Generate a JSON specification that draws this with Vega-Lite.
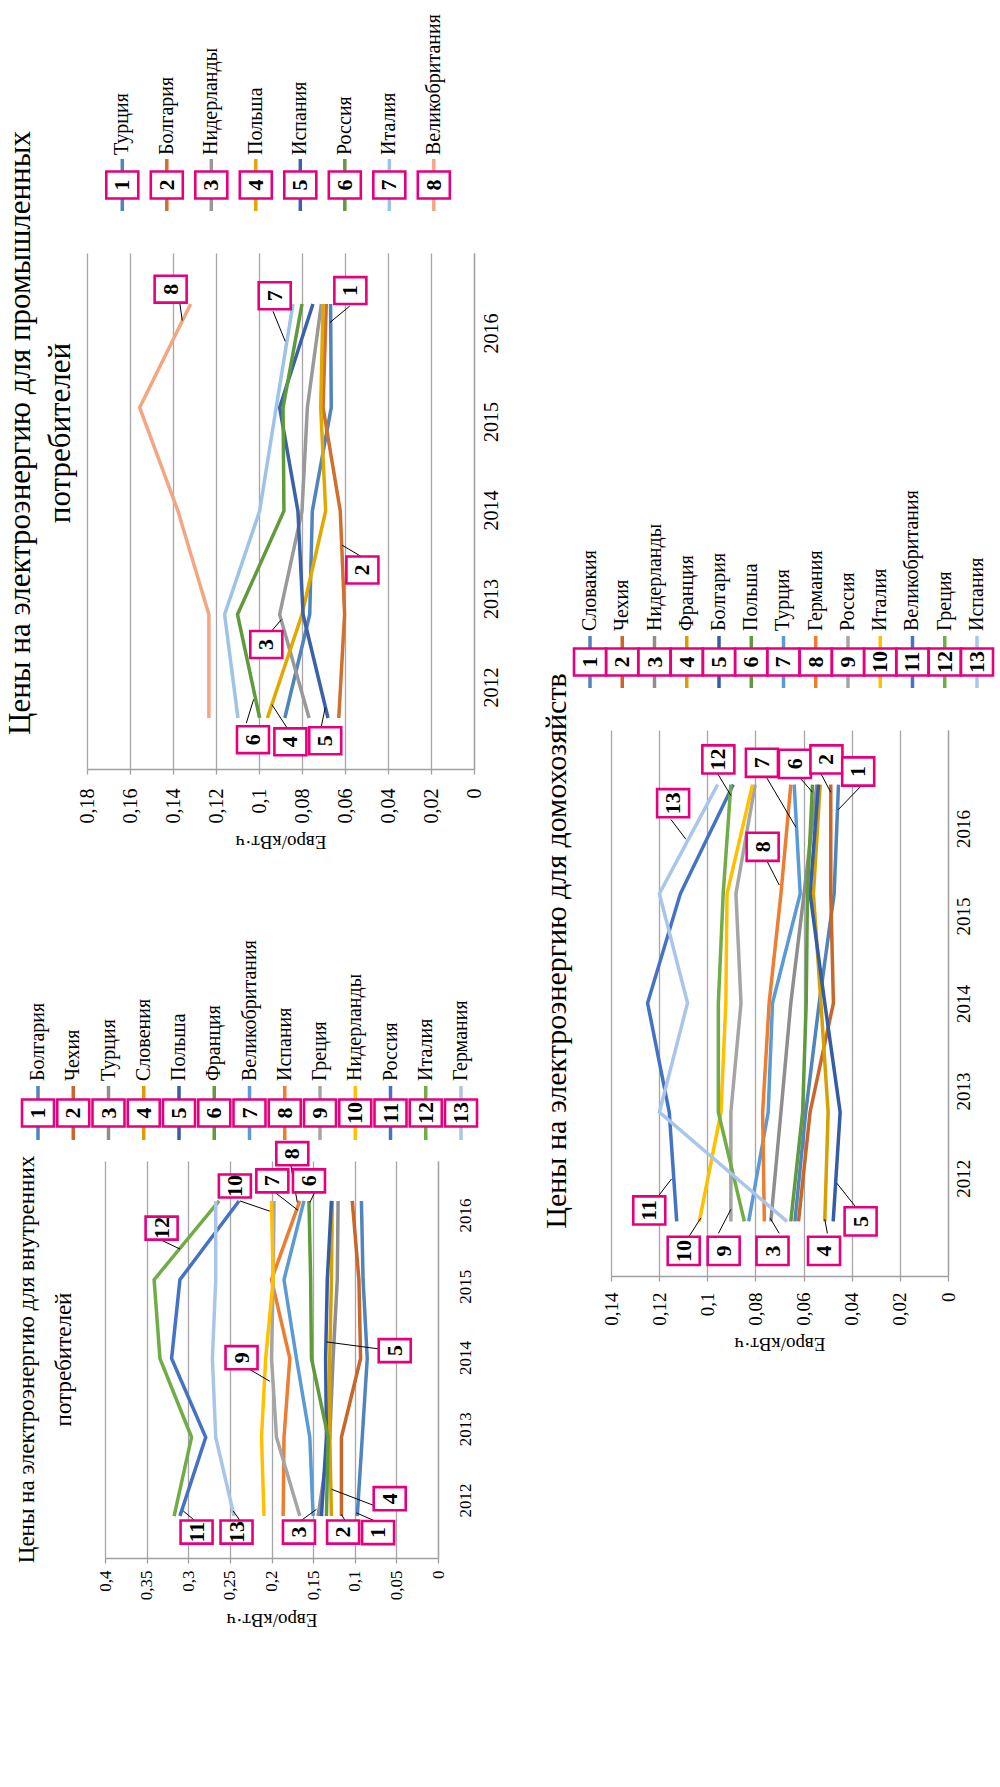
{
  "$schema": "https://vega.github.io/schema/vega-lite/v6.json",
  "padding": {"left": 4, "top": 14, "right": 0, "bottom": 20},
  "background": "white",
  "config": {
    "view": {"stroke": null},
    "font": "Liberation Serif",
    "title": {"font": "Liberation Serif", "fontWeight": "normal", "color": "black"},
    "axis": {"labelFont": "Liberation Serif", "titleFont": "Liberation Serif", "labelColor": "black", "titleColor": "black", "titleFontWeight": "normal", "domainColor": "#A0A0A0", "tickColor": "#A0A0A0", "gridColor": "#A6A6A6", "gridOpacity": 1, "domainWidth": 1.3, "tickWidth": 1.3, "gridWidth": 1.3, "labelFlush": false, "labelOverlap": false},
    "text": {"color": "black"}
  },
  "datasets": {
    "years": [{"year": 2012}, {"year": 2013}, {"year": 2014}, {"year": 2015}, {"year": 2016}],
    "legA": [{"n": 1, "name": "Болгария"}, {"n": 2, "name": "Чехия"}, {"n": 3, "name": "Турция"}, {"n": 4, "name": "Словения"}, {"n": 5, "name": "Польша"}, {"n": 6, "name": "Франция"}, {"n": 7, "name": "Великобритания"}, {"n": 8, "name": "Испания"}, {"n": 9, "name": "Греция"}, {"n": 10, "name": "Нидерланды"}, {"n": 11, "name": "Россия"}, {"n": 12, "name": "Италия"}, {"n": 13, "name": "Германия"}],
    "legB": [{"n": 1, "name": "Турция"}, {"n": 2, "name": "Болгария"}, {"n": 3, "name": "Нидерланды"}, {"n": 4, "name": "Польша"}, {"n": 5, "name": "Испания"}, {"n": 6, "name": "Россия"}, {"n": 7, "name": "Италия"}, {"n": 8, "name": "Великобритания"}],
    "legC": [{"n": 1, "name": "Словакия"}, {"n": 2, "name": "Чехия"}, {"n": 3, "name": "Нидерланды"}, {"n": 4, "name": "Франция"}, {"n": 5, "name": "Болгария"}, {"n": 6, "name": "Польша"}, {"n": 7, "name": "Турция"}, {"n": 8, "name": "Германия"}, {"n": 9, "name": "Россия"}, {"n": 10, "name": "Италия"}, {"n": 11, "name": "Великобритания"}, {"n": 12, "name": "Греция"}, {"n": 13, "name": "Испания"}],
    "A": [
      {"n":1,"year":2012,"v":0.097},{"n":1,"year":2013,"v":0.091},{"n":1,"year":2014,"v":0.085},{"n":1,"year":2015,"v":0.090},{"n":1,"year":2016,"v":0.092},
      {"n":2,"year":2012,"v":0.116},{"n":2,"year":2013,"v":0.116},{"n":2,"year":2014,"v":0.093},{"n":2,"year":2015,"v":0.095},{"n":2,"year":2016,"v":0.103},
      {"n":3,"year":2012,"v":0.144},{"n":3,"year":2013,"v":0.130},{"n":3,"year":2014,"v":0.126},{"n":3,"year":2015,"v":0.121},{"n":3,"year":2016,"v":0.120},
      {"n":4,"year":2012,"v":0.128},{"n":4,"year":2013,"v":0.130},{"n":4,"year":2014,"v":0.130},{"n":4,"year":2015,"v":0.128},{"n":4,"year":2016,"v":0.127},
      {"n":5,"year":2012,"v":0.140},{"n":5,"year":2013,"v":0.134},{"n":5,"year":2014,"v":0.135},{"n":5,"year":2015,"v":0.133},{"n":5,"year":2016,"v":0.128},
      {"n":6,"year":2012,"v":0.134},{"n":6,"year":2013,"v":0.132},{"n":6,"year":2014,"v":0.152},{"n":6,"year":2015,"v":0.153},{"n":6,"year":2016,"v":0.155},
      {"n":7,"year":2012,"v":0.150},{"n":7,"year":2013,"v":0.154},{"n":7,"year":2014,"v":0.170},{"n":7,"year":2015,"v":0.185},{"n":7,"year":2016,"v":0.161},
      {"n":8,"year":2012,"v":0.186},{"n":8,"year":2013,"v":0.185},{"n":8,"year":2014,"v":0.178},{"n":8,"year":2015,"v":0.200},{"n":8,"year":2016,"v":0.166},
      {"n":9,"year":2012,"v":0.166},{"n":9,"year":2013,"v":0.194},{"n":9,"year":2014,"v":0.200},{"n":9,"year":2015,"v":0.198},{"n":9,"year":2016,"v":0.197},
      {"n":10,"year":2012,"v":0.209},{"n":10,"year":2013,"v":0.212},{"n":10,"year":2014,"v":0.207},{"n":10,"year":2015,"v":0.198},{"n":10,"year":2016,"v":0.200},
      {"n":11,"year":2012,"v":0.310},{"n":11,"year":2013,"v":0.279},{"n":11,"year":2014,"v":0.320},{"n":11,"year":2015,"v":0.310},{"n":11,"year":2016,"v":0.239},
      {"n":12,"year":2012,"v":0.317},{"n":12,"year":2013,"v":0.296},{"n":12,"year":2014,"v":0.334},{"n":12,"year":2015,"v":0.341},{"n":12,"year":2016,"v":0.263},
      {"n":13,"year":2012,"v":0.245},{"n":13,"year":2013,"v":0.267},{"n":13,"year":2014,"v":0.271},{"n":13,"year":2015,"v":0.267},{"n":13,"year":2016,"v":0.267}
    ],
    "B": [
      {"n":1,"year":2012,"v":0.0880},{"n":1,"year":2013,"v":0.0764},{"n":1,"year":2014,"v":0.0752},{"n":1,"year":2015,"v":0.0664},{"n":1,"year":2016,"v":0.0667},
      {"n":2,"year":2012,"v":0.0629},{"n":2,"year":2013,"v":0.0602},{"n":2,"year":2014,"v":0.0622},{"n":2,"year":2015,"v":0.0702},{"n":2,"year":2016,"v":0.0687},
      {"n":3,"year":2012,"v":0.0767},{"n":3,"year":2013,"v":0.0904},{"n":3,"year":2014,"v":0.0800},{"n":3,"year":2015,"v":0.0775},{"n":3,"year":2016,"v":0.0710},
      {"n":4,"year":2012,"v":0.0961},{"n":4,"year":2013,"v":0.0800},{"n":4,"year":2014,"v":0.0690},{"n":4,"year":2015,"v":0.0713},{"n":4,"year":2016,"v":0.0702},
      {"n":5,"year":2012,"v":0.0679},{"n":5,"year":2013,"v":0.0795},{"n":5,"year":2014,"v":0.0819},{"n":5,"year":2015,"v":0.0904},{"n":5,"year":2016,"v":0.0749},
      {"n":6,"year":2012,"v":0.0997},{"n":6,"year":2013,"v":0.1100},{"n":6,"year":2014,"v":0.0884},{"n":6,"year":2015,"v":0.0888},{"n":6,"year":2016,"v":0.0800},
      {"n":7,"year":2012,"v":0.1098},{"n":7,"year":2013,"v":0.1160},{"n":7,"year":2014,"v":0.0997},{"n":7,"year":2015,"v":0.0920},{"n":7,"year":2016,"v":0.0842},
      {"n":8,"year":2012,"v":0.1233},{"n":8,"year":2013,"v":0.1233},{"n":8,"year":2014,"v":0.1377},{"n":8,"year":2015,"v":0.1555},{"n":8,"year":2016,"v":0.1318}
    ],
    "C": [
      {"n":1,"year":2012,"v":0.0636},{"n":1,"year":2013,"v":0.0591},{"n":1,"year":2014,"v":0.0535},{"n":1,"year":2015,"v":0.0473},{"n":1,"year":2016,"v":0.0455},
      {"n":2,"year":2012,"v":0.0621},{"n":2,"year":2013,"v":0.0573},{"n":2,"year":2014,"v":0.0476},{"n":2,"year":2015,"v":0.0487},{"n":2,"year":2016,"v":0.0487},
      {"n":3,"year":2012,"v":0.0736},{"n":3,"year":2013,"v":0.0694},{"n":3,"year":2014,"v":0.0653},{"n":3,"year":2015,"v":0.0598},{"n":3,"year":2016,"v":0.0545},
      {"n":4,"year":2012,"v":0.0512},{"n":4,"year":2013,"v":0.0498},{"n":4,"year":2014,"v":0.0528},{"n":4,"year":2015,"v":0.0559},{"n":4,"year":2016,"v":0.0531},
      {"n":5,"year":2012,"v":0.0477},{"n":5,"year":2013,"v":0.0448},{"n":5,"year":2014,"v":0.0512},{"n":5,"year":2015,"v":0.0573},{"n":5,"year":2016,"v":0.0538},
      {"n":6,"year":2012,"v":0.0653},{"n":6,"year":2013,"v":0.0604},{"n":6,"year":2014,"v":0.0589},{"n":6,"year":2015,"v":0.0584},{"n":6,"year":2016,"v":0.0563},
      {"n":7,"year":2012,"v":0.0828},{"n":7,"year":2013,"v":0.0747},{"n":7,"year":2014,"v":0.0729},{"n":7,"year":2015,"v":0.0614},{"n":7,"year":2016,"v":0.0639},
      {"n":8,"year":2012,"v":0.0763},{"n":8,"year":2013,"v":0.0770},{"n":8,"year":2014,"v":0.0743},{"n":8,"year":2015,"v":0.0694},{"n":8,"year":2016,"v":0.0653},
      {"n":9,"year":2012,"v":0.0902},{"n":9,"year":2013,"v":0.0902},{"n":9,"year":2014,"v":0.0860},{"n":9,"year":2015,"v":0.0881},{"n":9,"year":2016,"v":0.0801},
      {"n":10,"year":2012,"v":0.1033},{"n":10,"year":2013,"v":0.0943},{"n":10,"year":2014,"v":0.0923},{"n":10,"year":2015,"v":0.0918},{"n":10,"year":2016,"v":0.0812},
      {"n":11,"year":2012,"v":0.1127},{"n":11,"year":2013,"v":0.1158},{"n":11,"year":2014,"v":0.1248},{"n":11,"year":2015,"v":0.1112},{"n":11,"year":2016,"v":0.0892},
      {"n":12,"year":2012,"v":0.0846},{"n":12,"year":2013,"v":0.0954},{"n":12,"year":2014,"v":0.0954},{"n":12,"year":2015,"v":0.0934},{"n":12,"year":2016,"v":0.0902},
      {"n":13,"year":2012,"v":0.0669},{"n":13,"year":2013,"v":0.1199},{"n":13,"year":2014,"v":0.1082},{"n":13,"year":2015,"v":0.1199},{"n":13,"year":2016,"v":0.0957}
    ],
    "annA": [
      {"n":11,"bv":0.290,"by":2011.796,"v1":0.292,"y1":2011.94,"v2":0.306,"y2":2012.064},
      {"n":13,"bv":0.242,"by":2011.796,"v1":0.237,"y1":2011.93,"v2":0.246,"y2":2012.064},
      {"n":3,"bv":0.167,"by":2011.796,"v1":0.168,"y1":2011.915,"v2":0.146,"y2":2012.085},
      {"n":2,"bv":0.114,"by":2011.796,"v1":0.110,"y1":2011.915,"v2":0.116,"y2":2012.02},
      {"n":1,"bv":0.072,"by":2011.79,"v1":0.072,"y1":2011.92,"v2":0.098,"y2":2012.04},
      {"n":4,"bv":0.058,"by":2012.22,"v1":0.076,"y1":2012.13,"v2":0.128,"y2":2012.34},
      {"n":9,"bv":0.236,"by":2014.01,"v1":0.234,"y1":2013.91,"v2":0.202,"y2":2013.71},
      {"n":5,"bv":0.052,"by":2014.10,"v1":0.070,"y1":2014.12,"v2":0.134,"y2":2014.21},
      {"n":12,"bv":0.332,"by":2015.655,"v1":0.336,"y1":2015.52,"v2":0.310,"y2":2015.39},
      {"n":10,"bv":0.244,"by":2016.19,"v1":0.238,"y1":2016.0,"v2":0.202,"y2":2015.87},
      {"n":7,"bv":0.199,"by":2016.255,"v1":0.196,"y1":2016.11,"v2":0.168,"y2":2015.88},
      {"n":8,"bv":0.175,"by":2016.6,"v1":0.177,"y1":2016.47,"v2":0.169,"y2":2015.98},
      {"n":6,"bv":0.155,"by":2016.255,"v1":0.148,"y1":2016.11,"v2":0.154,"y2":2015.98}
    ],
    "annB": [
      {"n":8,"bv":0.1411,"by":2016.143,"v1":0.1369,"y1":2016.02,"v2":0.1357,"y2":2015.84},
      {"n":7,"bv":0.0927,"by":2016.08,"v1":0.0935,"y1":2015.93,"v2":0.0878,"y2":2015.64},
      {"n":1,"bv":0.0575,"by":2016.13,"v1":0.0578,"y1":2015.98,"v2":0.0671,"y2":2015.82},
      {"n":2,"bv":0.0519,"by":2013.43,"v1":0.0516,"y1":2013.55,"v2":0.0614,"y2":2013.67},
      {"n":3,"bv":0.0966,"by":2012.71,"v1":0.0946,"y1":2012.83,"v2":0.0896,"y2":2012.95},
      {"n":6,"bv":0.1028,"by":2011.79,"v1":0.1059,"y1":2011.95,"v2":0.1025,"y2":2012.18},
      {"n":4,"bv":0.0854,"by":2011.77,"v1":0.0865,"y1":2011.89,"v2":0.0940,"y2":2012.13},
      {"n":5,"bv":0.0692,"by":2011.78,"v1":0.0713,"y1":2011.89,"v2":0.0692,"y2":2012.10}
    ],
    "annC": [
      {"n":12,"bv":0.0954,"by":2016.23,"v1":0.0957,"y1":2016.10,"v2":0.0902,"y2":2015.90},
      {"n":13,"bv":0.1142,"by":2015.83,"v1":0.1151,"y1":2015.68,"v2":0.1089,"y2":2015.50},
      {"n":7,"bv":0.0773,"by":2016.20,"v1":0.0763,"y1":2016.10,"v2":0.0632,"y2":2015.61},
      {"n":6,"bv":0.0636,"by":2016.19,"v1":0.0618,"y1":2016.07,"v2":0.0563,"y2":2015.93},
      {"n":2,"bv":0.0505,"by":2016.23,"v1":0.0528,"y1":2016.10,"v2":0.0487,"y2":2015.93},
      {"n":1,"bv":0.0373,"by":2016.12,"v1":0.0360,"y1":2015.99,"v2":0.0456,"y2":2015.77},
      {"n":8,"bv":0.0770,"by":2015.43,"v1":0.0752,"y1":2015.30,"v2":0.0701,"y2":2015.08},
      {"n":11,"bv":0.1241,"by":2012.10,"v1":0.1218,"y1":2012.19,"v2":0.1148,"y2":2012.39},
      {"n":5,"bv":0.0363,"by":2012.00,"v1":0.0379,"y1":2012.12,"v2":0.0462,"y2":2012.35},
      {"n":10,"bv":0.1098,"by":2011.73,"v1":0.1085,"y1":2011.83,"v2":0.1027,"y2":2012.03},
      {"n":9,"bv":0.0932,"by":2011.73,"v1":0.0954,"y1":2011.89,"v2":0.0902,"y2":2012.11},
      {"n":3,"bv":0.0729,"by":2011.73,"v1":0.0701,"y1":2011.89,"v2":0.0739,"y2":2012.03},
      {"n":4,"bv":0.0515,"by":2011.73,"v1":0.0501,"y1":2011.89,"v2":0.0512,"y2":2012.02}
    ]
  },
  "resolve": {"scale": {"color": "independent"}},
  "spacing": 40,
  "hconcat": [
    {
      "resolve": {"scale": {"color": "independent"}},
      "spacing": 90,
      "vconcat": [
        {
          "bounds": "flush",
          "spacing": 42,
          "resolve": {"scale": {"color": "independent"}},
          "vconcat": [
            {
              "width": 387, "height": 52,
              "data": {"name": "legB"},
              "encoding": {"x": {"field": "n", "type": "quantitative", "scale": {"domain": [0.207, 8.903], "nice": false, "zero": false}, "axis": null}},
              "layer": [
                {"mark": {"type": "rule", "strokeWidth": 3.5}, "encoding": {"color": {"field": "n", "type": "nominal", "scale": {"domain": [1,2,3,4,5,6,7,8], "range": ["#5084BC","#D0702E","#999999","#E0A800","#3B62A8","#5F9A3C","#9DC3E6","#F4A582"]}, "legend": null}}},
                {"mark": {"type": "point", "shape": "M-1,-0.84L1,-0.84L1,0.84L-1,0.84Z", "size": 1024, "filled": true, "fill": "white", "stroke": "#E6007E", "strokeWidth": 2.6, "opacity": 1}},
                {"mark": {"type": "text", "angle": 270, "fontSize": 22, "fontWeight": "bold", "align": "center", "baseline": "middle"}, "encoding": {"text": {"field": "n", "type": "nominal"}}},
                {"mark": {"type": "text", "angle": 270, "fontSize": 20, "align": "left", "baseline": "middle", "dx": 30}, "encoding": {"text": {"field": "name", "type": "nominal"}}}
              ]
            },
            {
              "width": 387, "height": 516,
              "title": {"text": ["Цены на электроэнергию для промышленных", "потребителей"], "orient": "left", "anchor": "middle", "frame": "group", "fontSize": 31, "lineHeight": 40, "offset": 0, "dx": 78},
              "layer": [
                {
                  "layer": [
                    {"data": {"name": "B"}, "mark": {"type": "line", "strokeWidth": 3.5},
                     "encoding": {
                       "x": {"field": "v", "type": "quantitative", "title": "Евро/кВт·ч", "scale": {"domain": [0, 0.18], "reverse": true, "nice": false, "zero": false},
                             "axis": {"values": [0,0.02,0.04,0.06,0.08,0.1,0.12,0.14,0.16,0.18], "labelExpr": "replace(format(datum.value,'~g'),'.',',')", "labelAngle": 270, "labelAlign": "right", "labelBaseline": "middle", "labelFontSize": 20, "labelPadding": 14, "tickSize": 5, "grid": true, "titleFontSize": 19, "titleAngle": 180, "titleBaseline": "bottom", "titlePadding": 8}},
                       "y": {"field": "year", "type": "quantitative", "scale": {"domain": [2011.507, 2016.493], "nice": false, "zero": false}, "axis": null},
                       "color": {"field": "n", "type": "nominal", "scale": {"domain": [1,2,3,4,5,6,7,8], "range": ["#5084BC","#D0702E","#999999","#E0A800","#3B62A8","#5F9A3C","#9DC3E6","#F4A582"]}, "legend": null},
                       "order": {"field": "year"}}},
                    {"data": {"name": "annB"}, "mark": {"type": "rule", "color": "black", "strokeWidth": 1},
                     "encoding": {"x": {"field": "v1", "type": "quantitative", "title": "Евро/кВт·ч"}, "y": {"field": "y1", "type": "quantitative", "axis": null}, "x2": {"field": "v2"}, "y2": {"field": "y2"}}},
                    {"data": {"name": "annB"}, "mark": {"type": "point", "shape": "M-1,-0.84L1,-0.84L1,0.84L-1,0.84Z", "size": 1024, "filled": true, "fill": "white", "stroke": "#E6007E", "strokeWidth": 2.6, "opacity": 1},
                     "encoding": {"x": {"field": "bv", "type": "quantitative", "title": "Евро/кВт·ч"}, "y": {"field": "by", "type": "quantitative", "axis": null}}},
                    {"data": {"name": "annB"}, "mark": {"type": "text", "angle": 270, "fontSize": 22, "fontWeight": "bold", "align": "center", "baseline": "middle"},
                     "encoding": {"x": {"field": "bv", "type": "quantitative", "title": "Евро/кВт·ч"}, "y": {"field": "by", "type": "quantitative", "axis": null}, "text": {"field": "n", "type": "nominal"}}}
                  ]
                },
                {"data": {"name": "years"}, "mark": {"type": "point", "opacity": 0},
                 "encoding": {"y": {"field": "year", "type": "quantitative", "scale": {"domain": [2011.073, 2016.904], "nice": false, "zero": false},
                   "axis": {"orient": "right", "values": [2012,2013,2014,2015,2016], "format": "d", "labelAngle": 270, "labelAlign": "center", "labelBaseline": "top", "labelFontSize": 20, "labelPadding": 7, "ticks": false, "tickSize": 0, "grid": false, "domain": true, "title": null}}}}
              ],
              "resolve": {"scale": {"y": "independent"}, "axis": {"y": "independent"}}
            }
          ]
        },
        {
          "bounds": "flush",
          "center": true,
          "spacing": 21,
          "resolve": {"scale": {"color": "independent"}},
          "vconcat": [
            {
              "width": 369, "height": 54,
              "data": {"name": "legA"},
              "encoding": {"x": {"field": "n", "type": "quantitative", "scale": {"domain": [2.390, 12.858], "nice": false, "zero": false}, "axis": null}},
              "layer": [
                {"mark": {"type": "rule", "strokeWidth": 3.5}, "encoding": {"color": {"field": "n", "type": "nominal", "scale": {"domain": [1,2,3,4,5,6,7,8,9,10,11,12,13], "range": ["#5084BC","#C8672A","#8E8E8E","#D6A000","#345DA7","#5F9A3C","#5B9BD5","#ED7D31","#A5A5A5","#FFC000","#4472C4","#70AD47","#A9C6EA"]}, "legend": null}}},
                {"mark": {"type": "point", "shape": "M-1,-0.84L1,-0.84L1,0.84L-1,0.84Z", "size": 1024, "filled": true, "fill": "white", "stroke": "#E6007E", "strokeWidth": 2.6, "opacity": 1}},
                {"mark": {"type": "text", "angle": 270, "fontSize": 22, "fontWeight": "bold", "align": "center", "baseline": "middle"}, "encoding": {"text": {"field": "n", "type": "nominal"}}},
                {"mark": {"type": "text", "angle": 270, "fontSize": 20, "align": "left", "baseline": "middle", "dx": 32}, "encoding": {"text": {"field": "name", "type": "nominal"}}}
              ]
            },
            {
              "width": 333, "height": 397,
              "title": {"text": ["Цены на электроэнергию для внутренних", "потребителей"], "orient": "left", "anchor": "middle", "frame": "group", "fontSize": 23, "lineHeight": 37, "offset": 20, "dx": 0},
              "layer": [
                {
                  "layer": [
                    {"data": {"name": "A"}, "mark": {"type": "line", "strokeWidth": 3.5},
                     "encoding": {
                       "x": {"field": "v", "type": "quantitative", "title": "Евро/кВт·ч", "scale": {"domain": [0, 0.4], "reverse": true, "nice": false, "zero": false},
                             "axis": {"values": [0,0.05,0.1,0.15,0.2,0.25,0.3,0.35,0.4], "labelExpr": "replace(format(datum.value,'~g'),'.',',')", "labelAngle": 270, "labelAlign": "right", "labelBaseline": "middle", "labelFontSize": 17, "labelPadding": 7, "tickSize": 5, "grid": true, "titleFontSize": 19, "titleAngle": 180, "titleBaseline": "bottom", "titlePadding": 10}},
                       "y": {"field": "year", "type": "quantitative", "scale": {"domain": [2011.467, 2016.507], "nice": false, "zero": false}, "axis": null},
                       "color": {"field": "n", "type": "nominal", "scale": {"domain": [1,2,3,4,5,6,7,8,9,10,11,12,13], "range": ["#5084BC","#C8672A","#8E8E8E","#D6A000","#345DA7","#5F9A3C","#5B9BD5","#ED7D31","#A5A5A5","#FFC000","#4472C4","#70AD47","#A9C6EA"]}, "legend": null},
                       "order": {"field": "year"}}},
                    {"data": {"name": "annA"}, "mark": {"type": "rule", "color": "black", "strokeWidth": 1},
                     "encoding": {"x": {"field": "v1", "type": "quantitative", "title": "Евро/кВт·ч"}, "y": {"field": "y1", "type": "quantitative", "axis": null}, "x2": {"field": "v2"}, "y2": {"field": "y2"}}},
                    {"data": {"name": "annA"}, "mark": {"type": "point", "shape": "M-1,-0.72L1,-0.72L1,0.72L-1,0.72Z", "size": 1024, "filled": true, "fill": "white", "stroke": "#E6007E", "strokeWidth": 2.6, "opacity": 1},
                     "encoding": {"x": {"field": "bv", "type": "quantitative", "title": "Евро/кВт·ч"}, "y": {"field": "by", "type": "quantitative", "axis": null}}},
                    {"data": {"name": "annA"}, "mark": {"type": "text", "angle": 270, "fontSize": 22, "fontWeight": "bold", "align": "center", "baseline": "middle"},
                     "encoding": {"x": {"field": "bv", "type": "quantitative", "title": "Евро/кВт·ч"}, "y": {"field": "by", "type": "quantitative", "axis": null}, "text": {"field": "n", "type": "nominal"}}}
                  ]
                },
                {"data": {"name": "years"}, "mark": {"type": "point", "opacity": 0},
                 "encoding": {"y": {"field": "year", "type": "quantitative", "scale": {"domain": [2011.186, 2016.758], "nice": false, "zero": false},
                   "axis": {"orient": "right", "values": [2012,2013,2014,2015,2016], "format": "d", "labelAngle": 270, "labelAlign": "center", "labelBaseline": "top", "labelFontSize": 17, "labelPadding": 19, "ticks": false, "tickSize": 0, "grid": false, "domain": true, "title": null}}}}
              ],
              "resolve": {"scale": {"y": "independent"}, "axis": {"y": "independent"}}
            }
          ]
        }
      ]
    },
    {
      "resolve": {"scale": {"color": "independent"}},
      "spacing": 330,
      "vconcat": [
        {"width": 1, "height": 1, "data": {"values": []}, "mark": "point", "encoding": {}},
        {
          "bounds": "flush",
          "spacing": 42,
          "resolve": {"scale": {"color": "independent"}},
          "vconcat": [
            {
              "width": 337, "height": 52,
              "data": {"name": "legC"},
              "encoding": {"x": {"field": "n", "type": "quantitative", "scale": {"domain": [1.651, 12.101], "nice": false, "zero": false}, "axis": null}},
              "layer": [
                {"mark": {"type": "rule", "strokeWidth": 3.5}, "encoding": {"color": {"field": "n", "type": "nominal", "scale": {"domain": [1,2,3,4,5,6,7,8,9,10,11,12,13], "range": ["#5084BC","#C8672A","#8E8E8E","#D6A000","#345DA7","#5F9A3C","#5B9BD5","#ED7D31","#A5A5A5","#FFC000","#4472C4","#70AD47","#A9C6EA"]}, "legend": null}}},
                {"mark": {"type": "point", "shape": "M-1,-0.84L1,-0.84L1,0.84L-1,0.84Z", "size": 1024, "filled": true, "fill": "white", "stroke": "#E6007E", "strokeWidth": 2.6, "opacity": 1}},
                {"mark": {"type": "text", "angle": 270, "fontSize": 22, "fontWeight": "bold", "align": "center", "baseline": "middle"}, "encoding": {"text": {"field": "n", "type": "nominal"}}},
                {"mark": {"type": "text", "angle": 270, "fontSize": 20, "align": "left", "baseline": "middle", "dx": 31}, "encoding": {"text": {"field": "name", "type": "nominal"}}}
              ]
            },
            {
              "width": 337, "height": 546,
              "title": {"text": "Цены на электроэнергию для домохозяйств", "orient": "left", "anchor": "middle", "frame": "group", "fontSize": 30, "offset": 30, "dx": 52},
              "layer": [
                {
                  "layer": [
                    {"data": {"name": "C"}, "mark": {"type": "line", "strokeWidth": 3.5},
                     "encoding": {
                       "x": {"field": "v", "type": "quantitative", "title": "Евро/кВт·ч", "scale": {"domain": [0, 0.14], "reverse": true, "nice": false, "zero": false},
                             "axis": {"values": [0,0.02,0.04,0.06,0.08,0.1,0.12,0.14], "labelExpr": "replace(format(datum.value,'~g'),'.',',')", "labelAngle": 270, "labelAlign": "right", "labelBaseline": "middle", "labelFontSize": 19, "labelPadding": 11, "tickSize": 5, "grid": true, "titleFontSize": 19, "titleAngle": 180, "titleBaseline": "bottom", "titlePadding": 8}},
                       "y": {"field": "year", "type": "quantitative", "scale": {"domain": [2011.5, 2016.5], "nice": false, "zero": false}, "axis": null},
                       "color": {"field": "n", "type": "nominal", "scale": {"domain": [1,2,3,4,5,6,7,8,9,10,11,12,13], "range": ["#5084BC","#C8672A","#8E8E8E","#D6A000","#345DA7","#5F9A3C","#5B9BD5","#ED7D31","#A5A5A5","#FFC000","#4472C4","#70AD47","#A9C6EA"]}, "legend": null},
                       "order": {"field": "year"}}},
                    {"data": {"name": "annC"}, "mark": {"type": "rule", "color": "black", "strokeWidth": 1},
                     "encoding": {"x": {"field": "v1", "type": "quantitative", "title": "Евро/кВт·ч"}, "y": {"field": "y1", "type": "quantitative", "axis": null}, "x2": {"field": "v2"}, "y2": {"field": "y2"}}},
                    {"data": {"name": "annC"}, "mark": {"type": "point", "shape": "M-1,-0.88L1,-0.88L1,0.88L-1,0.88Z", "size": 1024, "filled": true, "fill": "white", "stroke": "#E6007E", "strokeWidth": 2.6, "opacity": 1},
                     "encoding": {"x": {"field": "bv", "type": "quantitative", "title": "Евро/кВт·ч"}, "y": {"field": "by", "type": "quantitative", "axis": null}}},
                    {"data": {"name": "annC"}, "mark": {"type": "text", "angle": 270, "fontSize": 22, "fontWeight": "bold", "align": "center", "baseline": "middle"},
                     "encoding": {"x": {"field": "bv", "type": "quantitative", "title": "Евро/кВт·ч"}, "y": {"field": "by", "type": "quantitative", "axis": null}, "text": {"field": "n", "type": "nominal"}}}
                  ]
                },
                {"data": {"name": "years"}, "mark": {"type": "point", "opacity": 0},
                 "encoding": {"y": {"field": "year", "type": "quantitative", "scale": {"domain": [2010.883, 2017.127], "nice": false, "zero": false},
                   "axis": {"orient": "right", "values": [2012,2013,2014,2015,2016], "format": "d", "labelAngle": 270, "labelAlign": "center", "labelBaseline": "top", "labelFontSize": 19, "labelPadding": 6, "ticks": false, "tickSize": 0, "grid": false, "domain": true, "title": null}}}}
              ],
              "resolve": {"scale": {"y": "independent"}, "axis": {"y": "independent"}}
            }
          ]
        }
      ]
    }
  ]
}
